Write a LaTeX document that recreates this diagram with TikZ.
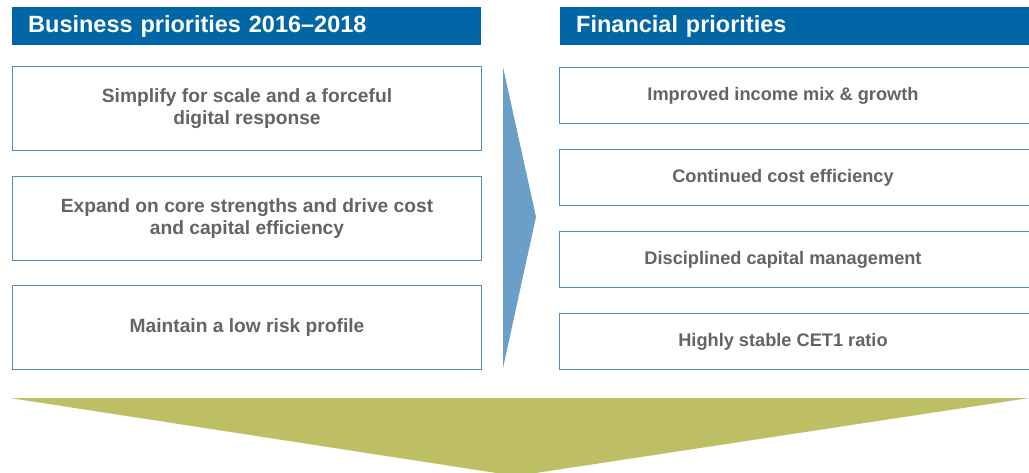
\documentclass[tikz,border=0pt]{standalone}
\usepackage{fontspec}
\setmainfont{Liberation Sans}
\usetikzlibrary{positioning}

\definecolor{hdrblue}{HTML}{0066A6}
\definecolor{lineblue}{HTML}{4A8CC4}
\definecolor{arrowblue}{HTML}{6A9FC8}
\definecolor{olive}{HTML}{BEBE65}
\definecolor{txtgray}{HTML}{646464}

\tikzset{
  header/.style={fill=hdrblue, text=white, font=\bfseries\fontsize{23.5}{26}\selectfont,
    anchor=north west, minimum height=38pt, inner xsep=16pt, text width=437pt, align=left},
  leftbox/.style={draw=lineblue, line width=1pt, fill=white, text=txtgray,
    font=\bfseries\fontsize{19.2}{21.5}\selectfont, align=center,
    minimum width=469pt, minimum height=84pt, anchor=north west},
  rightbox/.style={leftbox, font=\bfseries\fontsize{18.2}{21.5}\selectfont,
    minimum width=480pt, minimum height=56pt}
}

\begin{document}
\begin{tikzpicture}[x=1pt,y=-1pt]
			\useasboundingbox (0,0) rectangle (1029,472);
			\clip (0,0) rectangle (1029,472);
			\fill[white] (0,0) rectangle (1029,472);

			\node (h1)[header] at (12,7) {Business priorities 2016--2018};
			\node (h2)[header, text width=448pt] at (560,7) {Financial priorities};

			\node (l1)[leftbox] at (12,66)  {Simplify for scale and a forceful\\digital response};
			\node (l2)[leftbox] at (12,176) {Expand on core strengths and drive cost\\and capital efficiency};
			\node (l3)[leftbox] at (12,285) {Maintain a low risk profile};

			\node (r1)[rightbox] at (559,67)  {\hspace*{-33pt}Improved income mix \& growth};
			\node (r2)[rightbox] at (559,149) {\hspace*{-33pt}Continued cost efficiency};
			\node (r3)[rightbox] at (559,231) {\hspace*{-33pt}Disciplined capital management};
			\node (r4)[rightbox] at (559,313) {\hspace*{-33pt}Highly stable CET1 ratio};

			\fill[arrowblue] (503,67) -- (536,217) -- (503,368) -- cycle;
			\fill[olive] (10,398) -- (1029,398) -- (516,476) -- cycle;
		\end{tikzpicture}
\end{document}
